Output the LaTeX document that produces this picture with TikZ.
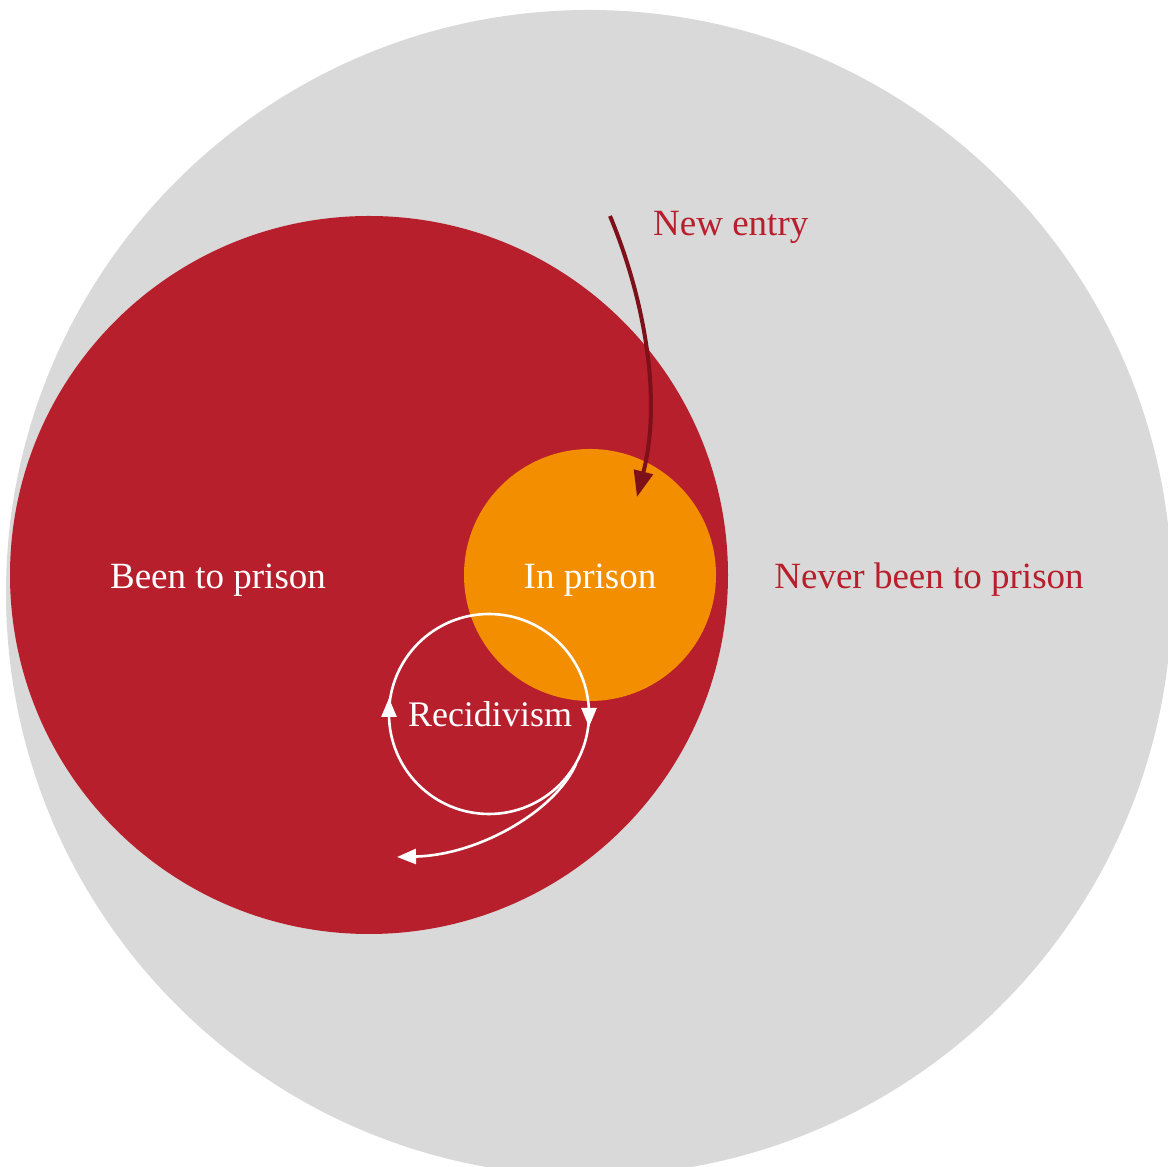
\documentclass[tikz,border=0pt]{standalone}
\usepackage{fontspec}
\setmainfont{Liberation Serif}
\usetikzlibrary{arrows.meta}
\definecolor{greyc}{HTML}{D9D9D9}
\definecolor{redc}{HTML}{B71F2C}
\definecolor{orangec}{HTML}{F28E00}
\definecolor{darkredc}{HTML}{7E101A}
\tikzset{
  lbl/.style={font=\fontsize{37}{42}\selectfont, anchor=base, inner sep=0pt},
  whitearrow/.style={white, line width=2.6pt},
  wtip/.style={-{Triangle[length=19pt,width=15pt]}},
}
\begin{document}
\begin{tikzpicture}[x=1pt,y=1pt]
\useasboundingbox (0,0) rectangle (1168,1167);
\clip (0,0) rectangle (1168,1167);
\fill[greyc] (589,574) circle[radius=583pt];
\fill[redc] (369,592) circle[radius=359pt];
\fill[orangec] (590,592) circle[radius=126pt];
% recidivism loop
\coordinate (rc) at (489,453);
\draw[whitearrow] (rc) circle[radius=100pt];
\coordinate (ra) at (589,462);
\coordinate (rb) at (589,440);
\draw[whitearrow, wtip] (ra) -- (rb);
\coordinate (la) at (389,446);
\coordinate (lb) at (389,469);
\draw[whitearrow, wtip] (la) -- (lb);
\coordinate (bs) at (576,403);
\coordinate (be) at (397,310);
\draw[whitearrow, wtip] (bs) .. controls (556,357) and (480,312) .. (be);
% new entry arrow
\coordinate (ns) at (610,951);
\coordinate (ne) at (637,670);
\draw[darkredc, line width=4pt, -{Triangle[length=26pt,width=19pt]}] (ns) .. controls (645,867) and (662,767) .. (ne);
% labels
\node[lbl, text=white] (been) at (218,578) {Been to prison};
\node[lbl, text=white] (inp) at (590,578) {In prison};
\node[lbl, text=redc] (never) at (929,578) {Never been to prison};
\node[lbl, text=white, font=\fontsize{36}{40}\selectfont] (rec) at (490,440) {Recidivism};
\node[lbl, text=redc, anchor=base west] (new) at (653,931) {New entry};
\end{tikzpicture}
\end{document}
